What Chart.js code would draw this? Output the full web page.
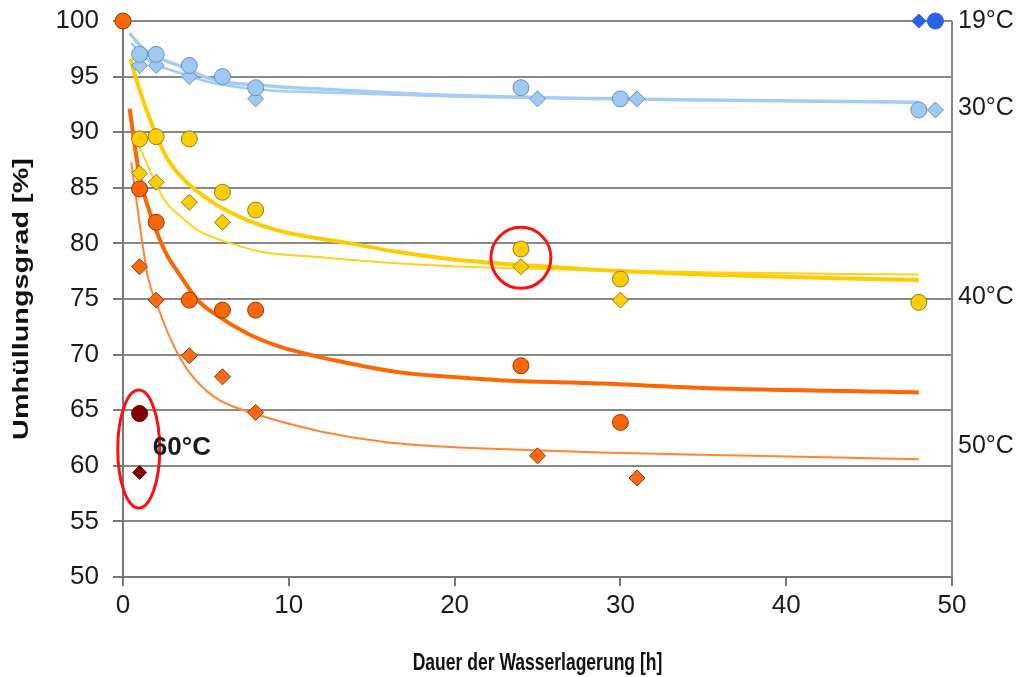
<!DOCTYPE html>
<html>
<head>
<meta charset="utf-8">
<script src="https://cdn.jsdelivr.net/npm/chart.js@4"></script>
<style>
  body { margin: 0; background: #fff; }
  #wrap { width: 1021px; height: 677px; }
</style>
</head>
<body>
<div id="wrap"><canvas id="chart" width="1021" height="677"></canvas></div>
<script>
// measured points (hours / coating degree %)
const x19c = [49], y19c = [100];
const x19d = [48], y19d = [100];

const x30c = [1, 2, 4, 6, 8, 24, 30, 48];
const y30c = [97, 97, 96, 95, 94, 94, 93, 92];
const x30d = [1, 2, 4, 6, 8, 25, 31, 49];
const y30d = [96, 96, 95, 95, 93, 93, 93, 92];

const x40c = [1, 2, 4, 6, 8, 24, 30, 48];
const y40c = [89.4, 89.6, 89.4, 84.6, 83, 79.5, 76.8, 74.7];
const x40d = [1, 2, 4, 6, 24, 30];
const y40d = [86.3, 85.5, 83.7, 81.9, 77.9, 74.9];

const x50c = [0, 1, 2, 4, 6, 8, 24, 30];
const y50c = [100, 84.9, 81.9, 74.9, 74, 74, 69, 63.9];
const x50d = [1, 2, 4, 6, 8, 25, 31];
const y50d = [77.9, 74.9, 69.9, 68, 64.8, 60.9, 58.9];

const x60c = [1], y60c = [64.7];
const x60d = [1], y60d = [59.4];

// trend curves
const fx30c = [0.4, 1.3, 3.5, 5.5, 8.5, 11.6, 20, 35, 48];
const fy30c = [98.9, 97.4, 95.9, 94.7, 94.2, 93.9, 93.3, 92.9, 92.7];
const fx30d = [0.5, 1.5, 3.5, 5.5, 8.5, 11.6, 20, 35, 48];
const fy30d = [98.0, 96.5, 95.3, 94.4, 93.8, 93.6, 93.2, 92.9, 92.7];

const fx40c = [0.45, 1, 2.5, 3.5, 5.5, 7.5, 9.5, 13.7, 16.7, 19.7, 22.7, 25.7, 28.8, 35, 48];
const fy40c = [96.6, 93.8, 88.1, 86.0, 83.6, 82.1, 81.1, 80.0, 79.2, 78.6, 78.2, 77.9, 77.6, 77.2, 76.7];
const fx40d = [0.9, 2.5, 3.5, 4.5, 6.5, 8.5, 11.6, 16.7, 22.7, 28.8, 35, 48];
const fy40d = [89, 83.9, 82.4, 81.2, 80.0, 79.2, 78.8, 78.2, 77.8, 77.6, 77.4, 77.2];

const fx50c = [0.4, 1, 1.5, 2.5, 3.5, 4.5, 5.5, 7.5, 9.5, 13.7, 16.7, 19.7, 22.7, 28.8, 35, 48];
const fy50c = [92.1, 86.0, 83.3, 79.4, 77.0, 74.9, 73.7, 71.9, 70.7, 69.2, 68.4, 68.0, 67.7, 67.4, 67.0, 66.6];
const fx50d = [0.5, 1, 1.5, 2.1, 2.9, 3.9, 5.5, 7.9, 11.6, 13.7, 16.7, 19.7, 22.7, 28.8, 38, 48];
const fy50d = [87.3, 81.8, 77.0, 74.3, 71.3, 68.6, 66.2, 64.7, 63.2, 62.6, 62.0, 61.7, 61.5, 61.2, 60.9, 60.6];

// labels
const tempNames = ["19°C", "30°C", "40°C", "50°C"];
const tempNameY = [100, 92.2, 75.2, 61.8];
const xTitle = "Dauer der Wasserlagerung [h]";
const yTitle = "Umhüllungsgrad [%]";

const pts = (xs, ys) => xs.map((x, i) => ({ x: x, y: ys[i] }));

const FONT = "'Liberation Sans', Arial, sans-serif";
Chart.defaults.font.family = FONT;

function marker(xs, ys, style, fill, edge, r) {
  return {
    data: pts(xs, ys),
    pointStyle: style,
    pointRadius: r,
    backgroundColor: fill,
    borderColor: edge,
    borderWidth: 1,
    showLine: false,
    clip: false,
    order: 0,
  };
}

function trend(xs, ys, color, width) {
  return {
    data: pts(xs, ys),
    showLine: true,
    pointRadius: 0,
    borderColor: color,
    borderWidth: width,
    cubicInterpolationMode: "monotone",
    fill: false,
    order: 1,
  };
}

//annotations: temperature names, 60°C, red rings
const notes = {
  id: "notes",
  afterDatasetsDraw(chart) {
    const { ctx, chartArea } = chart;
    const x = chart.scales.x;
    const y = chart.scales.y;
    ctx.save();
    ctx.strokeStyle = "#ff1010";
    ctx.lineWidth = 3;
    ctx.beginPath();
    ctx.ellipse(x.getPixelForValue(0.95), y.getPixelForValue(61.5), 21, 59, 0, 0, 2 * Math.PI);
    ctx.stroke();
    ctx.beginPath();
    ctx.ellipse(x.getPixelForValue(24), y.getPixelForValue(78.7), 30, 30.5, 0, 0, 2 * Math.PI);
    ctx.stroke();

    ctx.fillStyle = "#1a1a1a";
    ctx.textBaseline = "middle";
    ctx.textAlign = "left";
    ctx.font = "25px " + FONT;
    tempNames.forEach((t, i) => {
      ctx.fillText(t, chartArea.right + 6, y.getPixelForValue(tempNameY[i]));
    });
    ctx.font = "bold 26px " + FONT;
    ctx.fillText("60°C", x.getPixelForValue(1.8), y.getPixelForValue(61.6));
    ctx.restore();
  },
};

// axis titles: the originals are squeezed, so draw them scaled
const axisTitles = {
  id: "axisTitles",
  afterDraw(chart) {
    const { ctx, chartArea } = chart;
    ctx.save();
    ctx.fillStyle = "#111";
    ctx.textAlign = "center";
    ctx.textBaseline = "middle";
    ctx.font = "bold 24px " + FONT;
    ctx.translate((chartArea.left + chartArea.right) / 2, chart.height - 14);
    ctx.scale(0.73, 1);
    ctx.fillText(xTitle, 0, 0);
    ctx.restore();

    ctx.save();
    ctx.fillStyle = "#111";
    ctx.textAlign = "center";
    ctx.textBaseline = "middle";
    ctx.font = "bold 22px " + FONT;
    ctx.translate(22, (chartArea.top + chartArea.bottom) / 2);
    ctx.rotate(-Math.PI / 2);
    ctx.scale(1.31, 1);
    ctx.fillText(yTitle, 0, 0);
    ctx.restore();
  },
};

const ctx = document.getElementById("chart").getContext("2d");
const myChart = new Chart(ctx, {
  type: "scatter",
  data: {
    datasets: [
      marker(x19c, y19c, "circle", "#2b5fe8", "#2b5fe8", 8),
      marker(x19d, y19d, "rectRot", "#2b5fe8", "#2b5fe8", 7),
      marker(x30c, y30c, "circle", "#9dc9f3", "#6b8fb3", 8),
      marker(x30d, y30d, "rectRot", "#9dc9f3", "#6b8fb3", 8),
      marker(x40c, y40c, "circle", "#ffcc00", "#8c7a2a", 8),
      marker(x40d, y40d, "rectRot", "#ffcc00", "#8c7a2a", 8),
      marker(x50c, y50c, "circle", "#ff6600", "#8a3a10", 8),
      marker(x50d, y50d, "rectRot", "#ff6a10", "#8a3a10", 8),
      marker(x60c, y60c, "circle", "#800000", "#6a0000", 8),
      marker(x60d, y60d, "rectRot", "#800000", "#6a0000", 7),
      trend(fx30c, fy30c, "#a3cdf5", 3.5),
      trend(fx30d, fy30d, "#a3cdf5", 2.5),
      trend(fx40c, fy40c, "#ffcc00", 4),
      trend(fx40d, fy40d, "#ffd21f", 2),
      trend(fx50c, fy50c, "#ff6600", 4),
      trend(fx50d, fy50d, "#ff8533", 2),
    ],
  },
  options: {
    responsive: false,
    animation: false,
    devicePixelRatio: 1,
    layout: { padding: { top: 21, right: 69, bottom: 0, left: 0 } },
    plugins: {
      legend: { display: false },
      tooltip: { enabled: false },
    },
    scales: {
      x: {
        type: "linear",
        min: 0,
        max: 50,
        ticks: { stepSize: 10, padding: 4, color: "#1a1a1a", font: { size: 26 } },
        grid: {
          color: (c) => (c.tick && c.tick.value === 50 ? "#888" : "rgba(0,0,0,0)"),
          tickColor: "#777",
          tickLength: 9,
          lineWidth: 2,
        },
        border: { color: "#777", width: 2 },
        afterFit: (s) => { s.height = 100; },
      },
      y: {
        min: 50,
        max: 100,
        ticks: { stepSize: 5, padding: 14, color: "#1a1a1a", font: { size: 26 } },
        grid: { color: "#888", tickColor: "#777", tickLength: 10, lineWidth: 2 },
        border: { color: "#777", width: 2 },
        afterFit: (s) => {
          s.width = 123;
          s.paddingTop = 0;
          s.paddingBottom = 0;
        },
      },
    },
  },
  plugins: [notes, axisTitles],
});
</script>
</body>
</html>
